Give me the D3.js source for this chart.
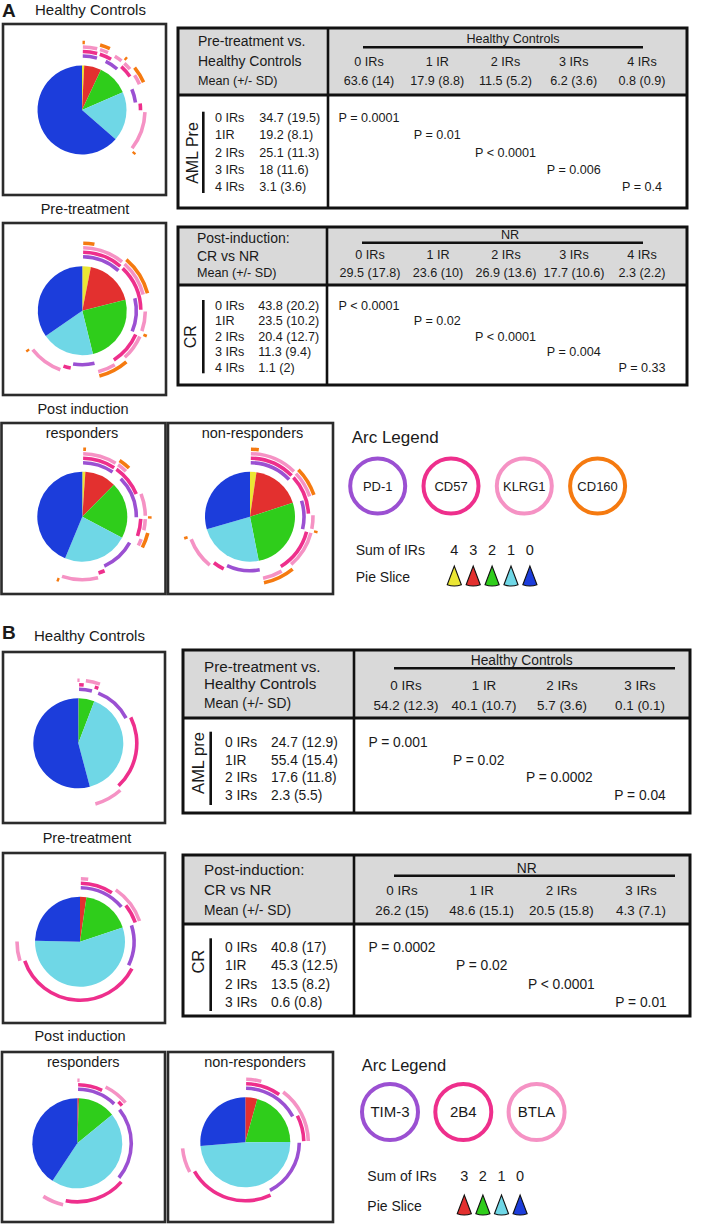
<!DOCTYPE html>
<html><head><meta charset="utf-8">
<script src="https://cdn.jsdelivr.net/npm/d3@7"></script>
<style>
body{margin:0;background:#fff}
svg{display:block}
text{font-family:"Liberation Sans",Arial,Helvetica,sans-serif;fill:#1a1a1a}
</style>
</head><body>
<svg id="c" width="724" height="1224"></svg>
<script>
// ================= DATA =================
// Sum-of-IR slice labels (pie order, clockwise from 12 o'clock)
const sumLabelsA = ["4","3","2","1","0"];
const sumLabelsB = ["3","2","1","0"];
// Table column / row labels
const irColsA = ["0 IRs","1 IR","2 IRs","3 IRs","4 IRs"];
const irColsB = ["0 IRs","1 IR","2 IRs","3 IRs"];
const irRowsA = ["0 IRs","1IR","2 IRs","3 IRs","4 IRs"];
const irRowsB = ["0 IRs","1IR","2 IRs","3 IRs"];
// Panel A means / SD, index = number of IRs (0..4)
const hcMeanA  = [63.6, 17.9, 11.5, 6.2, 0.8];
const hcSdA    = [14, 8.8, 5.2, 3.6, 0.9];
const preMeanA = [34.7, 19.2, 25.1, 18, 3.1];
const preSdA   = [19.5, 8.1, 11.3, 11.6, 3.6];
const nrMeanA  = [29.5, 23.6, 26.9, 17.7, 2.3];
const nrSdA    = [17.8, 10, 13.6, 10.6, 2.2];
const crMeanA  = [43.8, 23.5, 20.4, 11.3, 1.1];
const crSdA    = [20.2, 10.2, 12.7, 9.4, 2];
const pPreA    = ["P = 0.0001","P = 0.01","P < 0.0001","P = 0.006","P = 0.4"];
const pPostA   = ["P < 0.0001","P = 0.02","P < 0.0001","P = 0.004","P = 0.33"];
// Panel B means / SD, index = number of IRs (0..3)
const hcMeanB  = [54.2, 40.1, 5.7, 0.1];
const hcSdB    = [12.3, 10.7, 3.6, 0.1];
const preMeanB = [24.7, 55.4, 17.6, 2.3];
const preSdB   = [12.9, 15.4, 11.8, 5.5];
const nrMeanB  = [26.2, 48.6, 20.5, 4.3];
const nrSdB    = [15, 15.1, 15.8, 7.1];
const crMeanB  = [40.8, 45.3, 13.5, 0.6];
const crSdB    = [17, 12.5, 8.2, 0.8];
const pPreB    = ["P = 0.001","P = 0.02","P = 0.0002","P = 0.04"];
const pPostB   = ["P = 0.0002","P = 0.02","P < 0.0001","P = 0.01"];
// Markers (arc rings, inner -> outer)
const markersA = ["PD-1","CD57","KLRG1","CD160"];
const markersB = ["TIM-3","2B4","BTLA"];
// Marker combinations (digits = marker index), in pie order
const combosA = ["0123","012","013","023","123","01","02","03","12","13","23","0","1","2","3",""];
const combosB = ["012","01","02","12","0","1","2",""];
// Estimated combination frequencies (%) per pie
const combHcA  = [0.8, 3.3,0.3,0.3,2.3, 1.5,2.5,0.5,2.5,1.5,3.0, 4.5,2.3,10.3,0.8, 63.6];
const combPreA = [3.1, 8.0,0.4,0.4,9.2, 3.9,5.5,1.0,7.0,2.7,5.0, 6.8,2.5,9.2,0.7, 34.7];
const combCrA  = [1.1, 8.0,0.3,0.3,2.7, 6.5,6.1,0.4,3.3,1.9,2.2, 10.8,2.2,9.7,0.8, 43.8];
const combNrA  = [2.3, 10.2,0.3,0.3,6.9, 4.4,3.9,0.6,10.0,2.5,5.5, 10.3,3.6,8.6,1.1, 29.5];
const combHcB  = [0.1, 1.6,2.6,1.5, 11.7,20.7,7.7, 54.2];
const combPreB = [2.3, 7.1,4.7,5.8, 12.5,37.5,5.4, 24.7];
const combCrB  = [0.6, 6.6,5.0,1.9, 22.2,17.2,5.9, 40.8];
const combNrB  = [4.3, 5.7,7.2,7.6, 17.7,24.2,6.7, 26.2];

// ================= STYLE =================
const sliceColor = {"4":"#ebe634","3":"#e3302f","2":"#2fcd1b","1":"#6fd7e6","0":"#1c3ddb"};
const markerColA = ["#9b50d2","#ee2f8c","#f592c4","#f57a10"];
const markerColB = ["#9b50d2","#ee2f8c","#f592c4"];
const ringA = [54, 58.5, 63, 67.5];
const ringB = [54, 58.5, 63];

const svg = d3.select("#c");

function txt(g, x, y, s, size, opts = {}) {
  return g.append("text").attr("x", x).attr("y", y).attr("dy", "0.35em")
    .attr("font-size", size).attr("text-anchor", opts.anchor || "start")
    .attr("font-weight", opts.weight || "normal").text(s);
}
function box(x, y, w, h) {
  svg.append("rect").attr("x", x).attr("y", y).attr("width", w).attr("height", h)
    .attr("fill", "none").attr("stroke", "#2b2b2b").attr("stroke-width", 2.6);
}

function drawPie(cx, cy, r, means, sumLabels, combos, vals, cols, rings) {
  const g = svg.append("g").attr("transform", `translate(${cx},${cy})`);
  const cats = sumLabels.map(s => ({ s, v: means[+s] }));
  const pie = d3.pie().sort(null).value(d => d.v);
  const arc = d3.arc().innerRadius(0).outerRadius(r);
  g.selectAll("path.sl").data(pie(cats)).join("path").attr("class", "sl")
    .attr("d", arc).attr("fill", d => sliceColor[d.data.s]);
  const cp = d3.pie().sort(null).value(d => d.v)(combos.map((c, i) => ({ c, v: vals[i] })));
  cols.forEach((col, m) => {
    const runs = []; let cur = null;
    cp.forEach(d => {
      const has = d.data.c.includes(String(m));
      if (has) { if (cur) cur.e = d.endAngle; else cur = { s: d.startAngle, e: d.endAngle }; }
      else if (cur) { runs.push(cur); cur = null; }
    });
    if (cur) runs.push(cur);
    const a = d3.arc().innerRadius(rings[m] - 1.8).outerRadius(rings[m] + 1.8);
    runs.forEach(rn => {
      const len = rn.e - rn.s, pad = 0.014, minL = 0.035;
      let s, e;
      if (len - 2 * pad >= minL) { s = rn.s + pad; e = rn.e - pad; }
      else { const mid = (rn.s + rn.e) / 2, L = Math.max(minL, len * 0.7); s = mid - L / 2; e = mid + L / 2; }
      g.append("path").attr("d", a({ startAngle: s, endAngle: e })).attr("fill", col);
    });
  });
}

function drawTable(c) {
  const g = svg.append("g");
  g.append("rect").attr("x", c.x0).attr("y", c.y0).attr("width", c.x1 - c.x0).attr("height", c.yh - c.y0).attr("fill", "#d9d9d9");
  g.append("line").attr("x1", c.x0).attr("x2", c.x1).attr("y1", c.yh).attr("y2", c.yh).attr("stroke", "#111").attr("stroke-width", 2.8);
  g.append("line").attr("x1", c.xd).attr("x2", c.xd).attr("y1", c.y0).attr("y2", c.y1).attr("stroke", "#111").attr("stroke-width", 2.6);
  g.append("rect").attr("x", c.x0).attr("y", c.y0).attr("width", c.x1 - c.x0).attr("height", c.y1 - c.y0)
    .attr("fill", "none").attr("stroke", "#111").attr("stroke-width", 3);
  c.head.forEach((h, i) => txt(g, c.lx, c.hy[i], h, i < 2 ? c.hs : c.hs2));
  txt(g, c.gx, c.gy, c.group, c.gs, { anchor: "middle" });
  g.append("line").attr("x1", c.lr0).attr("x2", c.lr1).attr("y1", c.ly).attr("y2", c.ly).attr("stroke", "#111").attr("stroke-width", 2.6);
  const xs = d3.scalePoint().domain(c.cols).range([c.c0, c.c1]);
  c.cols.forEach((col, i) => {
    txt(g, xs(col), c.cy, col, c.cs, { anchor: "middle" });
    txt(g, xs(col), c.vy, `${c.mean[i]} (${c.sd[i]})`, c.cs, { anchor: "middle" });
  });
  const ys = d3.scalePoint().domain(c.rows).range([c.ry0, c.ry1]);
  const ps = d3.scalePoint().domain(c.cols).range([c.p0, c.c1]);
  g.append("line").attr("x1", c.bx).attr("x2", c.bx).attr("y1", c.by0).attr("y2", c.by1).attr("stroke", "#111").attr("stroke-width", 2.6);
  g.append("text").attr("transform", `translate(${c.rx},${c.ryc}) rotate(-90)`).attr("dy", "0.35em")
    .attr("text-anchor", "middle").attr("font-size", c.rs).text(c.rowGroup);
  c.rows.forEach((rw, i) => {
    txt(g, c.rlx, ys(rw), rw, c.bs);
    txt(g, c.rvx, ys(rw), `${c.rmean[i]} (${c.rsd[i]})`, c.bs);
    txt(g, ps(c.cols[i]), ys(rw), c.p[i], c.bs, { anchor: "middle" });
  });
}

function legend(items, cols, cx0, dx, cy, r, fs, sums, tx, sy, py, nx0, ndx, titleX, titleY, titleS) {
  const g = svg.append("g");
  txt(g, titleX, titleY, "Arc Legend", titleS);
  items.forEach((m, i) => {
    g.append("circle").attr("cx", cx0 + i * dx).attr("cy", cy).attr("r", r)
      .attr("fill", "#fff").attr("stroke", cols[i]).attr("stroke-width", 4);
    txt(g, cx0 + i * dx, cy, m, fs, { anchor: "middle" });
  });
  txt(g, tx, sy, "Sum of IRs", 14);
  txt(g, tx, py, "Pie Slice", 14);
  const cone = d3.arc().innerRadius(0).outerRadius(20).startAngle(Math.PI - 0.36).endAngle(Math.PI + 0.36);
  sums.forEach((s, i) => {
    const x = nx0 + i * ndx;
    txt(g, x, sy, s, 14.5, { anchor: "middle" });
    g.append("path").attr("transform", `translate(${x},${py - 11})`).attr("d", cone())
      .attr("fill", sliceColor[s]).attr("stroke", "#111").attr("stroke-width", 1.1);
  });
}

// ================= PANEL A =================
txt(svg, 2, 10.5, "A", 19, { weight: "bold" });
txt(svg, 35, 10, "Healthy Controls", 15);
box(3, 24, 163, 171);
drawPie(82, 110, 44.5, hcMeanA, sumLabelsA, combosA, combHcA, markerColA, ringA);
txt(svg, 85, 209, "Pre-treatment", 14.5, { anchor: "middle" });
box(3, 223, 163, 172);
drawPie(82.3, 310.7, 44.5, preMeanA, sumLabelsA, combosA, combPreA, markerColA, ringA);
txt(svg, 83, 409, "Post induction", 14.5, { anchor: "middle" });
box(1.5, 423, 164, 171);
box(168, 423, 165, 171);
txt(svg, 82, 433, "responders", 14.5, { anchor: "middle" });
txt(svg, 252.5, 433, "non-responders", 14.5, { anchor: "middle" });
drawPie(82.3, 516.7, 45, crMeanA, sumLabelsA, combosA, combCrA, markerColA, ringA);
drawPie(250, 516.7, 45, nrMeanA, sumLabelsA, combosA, combNrA, markerColA, ringA);

drawTable({ x0: 178, x1: 687, y0: 28, yh: 95, y1: 208, xd: 328,
  head: ["Pre-treatment vs.", "Healthy Controls", "Mean (+/- SD)"], lx: 198, hy: [40.7, 60.7, 81], hs: 14, hs2: 12.6,
  group: "Healthy Controls", gx: 513, gy: 38.3, gs: 12.6, lr0: 363, lr1: 643, ly: 47.3,
  cols: irColsA, c0: 369, c1: 642, p0: 369, cy: 61.7, vy: 81, cs: 12.6, mean: hcMeanA, sd: hcSdA,
  rows: irRowsA, ry0: 117.3, ry1: 187, bx: 203.3, by0: 111.7, by1: 193, rx: 192.5, ryc: 153, rs: 16, rowGroup: "AML Pre",
  rlx: 215, rvx: 259.3, rmean: preMeanA, rsd: preSdA, p: pPreA, bs: 12.6 });

drawTable({ x0: 178, x1: 687, y0: 227, yh: 285, y1: 385, xd: 327,
  head: ["Post-induction:", "CR vs NR", "Mean (+/- SD)"], lx: 197, hy: [238.3, 256, 272.3], hs: 14, hs2: 12.6,
  group: "NR", gx: 510, gy: 235, gs: 12.6, lr0: 362, lr1: 643, ly: 242.7,
  cols: irColsA, c0: 370, c1: 642, p0: 369, cy: 255, vy: 272.3, cs: 12.6, mean: nrMeanA, sd: nrSdA,
  rows: irRowsA, ry0: 305.5, ry1: 367.5, bx: 203.3, by0: 300, by1: 373.3, rx: 190.7, ryc: 336.7, rs: 16, rowGroup: "CR",
  rlx: 215, rvx: 258.3, rmean: crMeanA, rsd: crSdA, p: pPostA, bs: 12.6 });

legend(markersA, markerColA, 377.7, 73.3, 486, 27.5, 13, sumLabelsA,
  355.7, 550, 577, 454.3, 18.9, 351.7, 437.3, 17);

// ================= PANEL B =================
txt(svg, 2, 632, "B", 19, { weight: "bold" });
txt(svg, 34, 636, "Healthy Controls", 15);
box(3, 652, 162, 171);
drawPie(78.3, 743.3, 45, hcMeanB, sumLabelsB, combosB, combHcB, markerColB, ringB);
txt(svg, 87, 838, "Pre-treatment", 14.5, { anchor: "middle" });
box(3, 853, 162, 170);
drawPie(80, 941.7, 45, preMeanB, sumLabelsB, combosB, combPreB, markerColB, ringB);
txt(svg, 80, 1036, "Post induction", 14.5, { anchor: "middle" });
box(2, 1052, 163, 170);
box(168, 1052, 165, 170);
txt(svg, 83.3, 1062, "responders", 14.5, { anchor: "middle" });
txt(svg, 255, 1062, "non-responders", 14.5, { anchor: "middle" });
drawPie(77.3, 1143.3, 45, crMeanB, sumLabelsB, combosB, combCrB, markerColB, ringB);
drawPie(245.3, 1142.3, 45, nrMeanB, sumLabelsB, combosB, combNrB, markerColB, ringB);

drawTable({ x0: 183, x1: 690, y0: 650, yh: 718, y1: 813, xd: 354,
  head: ["Pre-treatment vs.", "Healthy Controls", "Mean (+/- SD)"], lx: 204, hy: [666.7, 683.3, 703.3], hs: 15.2, hs2: 13.8,
  group: "Healthy Controls", gx: 521.7, gy: 660, gs: 13.8, lr0: 394, lr1: 675, ly: 668.3,
  cols: irColsB, c0: 406, c1: 640, p0: 398, cy: 685, vy: 705, cs: 13.4, mean: hcMeanB, sd: hcSdB,
  rows: irRowsB, ry0: 742.3, ry1: 795.3, bx: 210.7, by0: 731.7, by1: 805, rx: 198.3, ryc: 763, rs: 16.5, rowGroup: "AML pre",
  rlx: 225, rvx: 271, rmean: preMeanB, rsd: preSdB, p: pPreB, bs: 13.8 });

drawTable({ x0: 183, x1: 690, y0: 855, yh: 924, y1: 1016, xd: 354,
  head: ["Post-induction:", "CR vs NR", "Mean (+/- SD)"], lx: 204, hy: [870, 890, 910], hs: 15.2, hs2: 13.8,
  group: "NR", gx: 526.7, gy: 868.3, gs: 13.8, lr0: 394, lr1: 675, ly: 875.7,
  cols: irColsB, c0: 402, c1: 641, p0: 402, cy: 890, vy: 910, cs: 13.4, mean: nrMeanB, sd: nrSdB,
  rows: irRowsB, ry0: 947.5, ry1: 1002, bx: 210.7, by0: 938.3, by1: 1011, rx: 198.3, ryc: 961.7, rs: 16.5, rowGroup: "CR",
  rlx: 225, rvx: 271, rmean: crMeanB, rsd: crSdB, p: pPostB, bs: 13.8 });

legend(markersB, markerColB, 390, 73.3, 1112, 28, 15, sumLabelsB,
  367.3, 1176, 1206, 464.3, 18.6, 361.7, 1065, 16.5);
</script>
</body></html>
